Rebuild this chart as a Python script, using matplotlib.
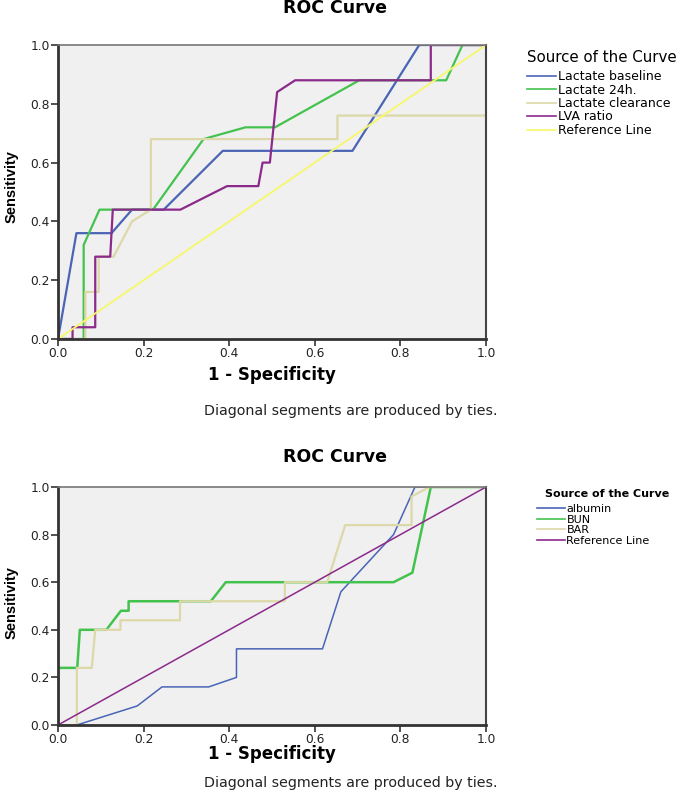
import matplotlib
matplotlib.use("Agg")
import matplotlib.pyplot as plt

# top chart: lactate markers
base_x = [0, 0.043, 0.125, 0.173, 0.247, 0.385, 0.688, 0.844, 1.0]
base_y = [0, 0.36, 0.36, 0.44, 0.44, 0.64, 0.64, 1.0, 1.0]
h24_x = [0, 0.06, 0.06, 0.097, 0.222, 0.340, 0.438, 0.507, 0.704, 0.907, 0.945, 1.0]
h24_y = [0, 0, 0.32, 0.44, 0.44, 0.68, 0.72, 0.72, 0.88, 0.88, 1.0, 1.0]
clr_x = [0, 0.064, 0.064, 0.095, 0.095, 0.13, 0.173, 0.217, 0.217, 0.653, 0.653, 1.0]
clr_y = [0, 0, 0.16, 0.16, 0.28, 0.28, 0.40, 0.44, 0.68, 0.68, 0.76, 0.76]
lva_x = [0, 0.034, 0.034, 0.087, 0.087, 0.122, 0.128, 0.286, 0.395, 0.468, 0.478,
         0.495, 0.512, 0.554, 0.871, 0.871, 1.0]
lva_y = [0, 0, 0.04, 0.04, 0.28, 0.28, 0.44, 0.44, 0.52, 0.52, 0.60,
         0.60, 0.84, 0.88, 0.88, 1.0, 1.0]
top_labels = ["Lactate baseline", "Lactate 24h.", "Lactate clearance", "LVA ratio",
              "Reference Line"]

# bottom chart
alb_x = [0, 0.044, 0.185, 0.243, 0.352, 0.417, 0.417, 0.618, 0.661, 0.784, 0.834, 1.0]
alb_y = [0, 0, 0.08, 0.16, 0.16, 0.20, 0.32, 0.32, 0.56, 0.80, 1.0, 1.0]
bun_x = [0, 0, 0.045, 0.051, 0.113, 0.147, 0.165, 0.165, 0.357, 0.392, 0.784, 0.828, 0.871, 1.0]
bun_y = [0, 0.24, 0.24, 0.40, 0.40, 0.48, 0.48, 0.52, 0.52, 0.60, 0.60, 0.64, 1.0, 1.0]
bar_x = [0, 0.044, 0.044, 0.079, 0.087, 0.146, 0.146, 0.285, 0.285, 0.530, 0.530,
         0.629, 0.671, 0.826, 0.826, 0.868, 1.0]
bar_y = [0, 0, 0.24, 0.24, 0.40, 0.40, 0.44, 0.44, 0.52, 0.52, 0.60,
         0.60, 0.84, 0.84, 0.96, 1.0, 1.0]
bottom_labels = ["albumin", "BUN", "BAR", "Reference Line"]

ref = [0, 1]
ticks = [0.0, 0.2, 0.4, 0.6, 0.8, 1.0]

BLUE = "#4a64b6"
GREEN = "#44c24e"
BEIGE = "#dcd8a8"
PURPLE = "#8b2a8b"
YELLOW = "#f7f76a"

plt.rcParams["font.family"] = ["DejaVu Sans"]

W, H = 685, 791
fig = plt.figure(figsize=(W / 100, H / 100), dpi=100)


def style_axes(ax):
    ax.set_facecolor("#f0f0f0")
    ax.set_xlim(0, 1)
    ax.set_ylim(0, 1)
    ax.set_xticks(ticks)
    ax.set_yticks(ticks)
    ax.set_xticklabels([f"{t:.1f}" for t in ticks], fontsize=8.8, color="#222222")
    ax.set_yticklabels([f"{t:.1f}" for t in ticks], fontsize=8.8, color="#222222")
    ax.tick_params(length=5, width=1.2, color="#333333", pad=1)
    for side in ["left", "bottom"]:
        ax.spines[side].set_linewidth(2)
        ax.spines[side].set_color("#333333")
    ax.spines["top"].set_linewidth(1.2)
    ax.spines["top"].set_color("#777777")
    ax.spines["right"].set_linewidth(1.5)
    ax.spines["right"].set_color("#444444")


def add_texts(y_title, y_xlabel, y_note, y_ylabel):
    fig.text(335 / W, 1 - y_title / H, "ROC Curve", ha="center", va="center",
             fontsize=12.5, fontweight="bold")
    fig.text(272 / W, 1 - y_xlabel / H, "1 - Specificity", ha="center", va="center",
             fontsize=12, fontweight="bold")
    fig.text(497 / W, 1 - y_note / H, "Diagonal segments are produced by ties.",
             ha="right", va="center", fontsize=10.3, color="#222222")
    fig.text(12 / W, 1 - y_ylabel / H, "Sensitivity", ha="center", va="center",
             rotation=90, fontsize=10.5, fontweight="bold", family="Liberation Sans")


# ---- top ----
ax1 = fig.add_axes([58 / W, 1 - 339 / H, 428 / W, 294 / H])
style_axes(ax1)
ax1.plot(base_x, base_y, color=BLUE, lw=1.6, label=top_labels[0])
ax1.plot(h24_x, h24_y, color=GREEN, lw=1.6, label=top_labels[1])
ax1.plot(clr_x, clr_y, color=BEIGE, lw=1.6, label=top_labels[2])
ax1.plot(lva_x, lva_y, color=PURPLE, lw=1.6, label=top_labels[3])
ax1.plot(ref, ref, color=YELLOW, lw=1.3, label=top_labels[4])
leg1 = ax1.legend(loc="upper left", bbox_to_anchor=(527 / W, 1 - 70 / H),
                  bbox_transform=fig.transFigure, frameon=False, fontsize=9,
                  handlelength=2.3, handletextpad=0.15, labelspacing=0.04,
                  borderpad=0, borderaxespad=0)
for line in leg1.get_lines():
    line.set_linewidth(1.2)
fig.text(527 / W, 1 - 58 / H, "Source of the Curve", ha="left", va="center",
         fontsize=10.8)
add_texts(8, 375, 411, 187)

# ---- bottom ----
ax2 = fig.add_axes([58 / W, 1 - 725 / H, 428 / W, 238 / H])
style_axes(ax2)
ax2.plot(alb_x, alb_y, color=BLUE, lw=1.1, label=bottom_labels[0])
ax2.plot(bun_x, bun_y, color=GREEN, lw=1.8, label=bottom_labels[1])
ax2.plot(bar_x, bar_y, color=BEIGE, lw=1.6, label=bottom_labels[2])
ax2.plot(ref, ref, color=PURPLE, lw=1.1, label=bottom_labels[3])
leg2 = ax2.legend(loc="upper left", bbox_to_anchor=(537 / W, 1 - 504 / H),
                  bbox_transform=fig.transFigure, frameon=False, fontsize=8,
                  handlelength=2.5, handletextpad=0.15, labelspacing=0.06,
                  borderpad=0, borderaxespad=0)
for line in leg2.get_lines():
    line.set_linewidth(1.2)
fig.text(545 / W, 1 - 494 / H, "Source of the Curve", ha="left", va="center",
         fontsize=8, fontweight="bold")
add_texts(457, 754, 783, 603)

fig.savefig("out.png", dpi=100)
